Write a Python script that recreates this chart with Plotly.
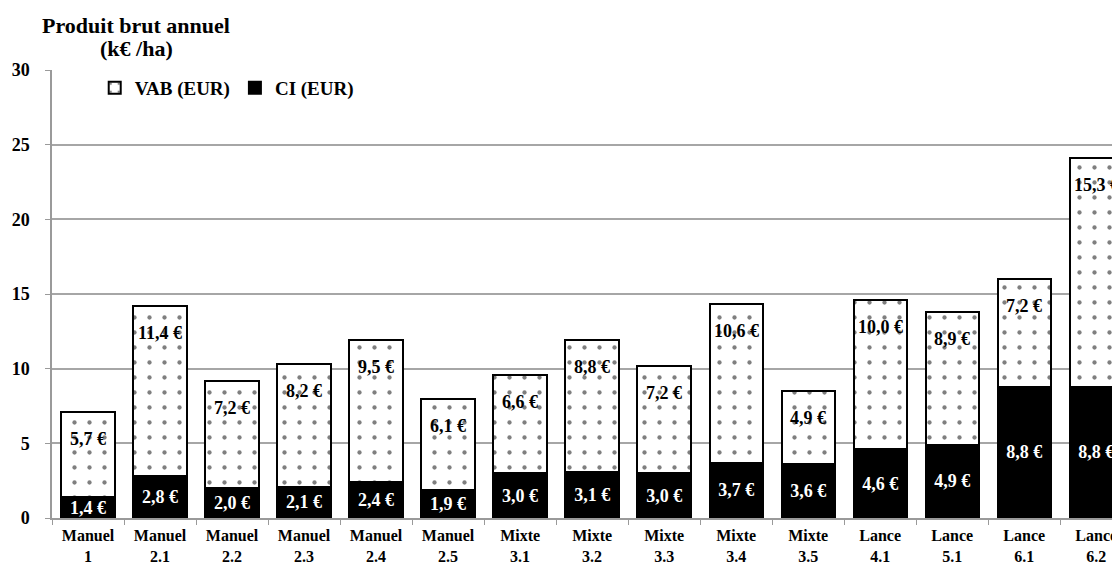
import plotly.graph_objects as go

# Données (k€ / ha)
categories = ["Manuel<br>1", "Manuel<br>2.1", "Manuel<br>2.2", "Manuel<br>2.3", "Manuel<br>2.4",
              "Manuel<br>2.5", "Mixte<br>3.1", "Mixte<br>3.2", "Mixte<br>3.3", "Mixte<br>3.4",
              "Mixte<br>3.5", "Lance<br>4.1", "Lance<br>5.1", "Lance<br>6.1", "Lance<br>6.2"]
ci = [1.4, 2.8, 2.0, 2.1, 2.4, 1.9, 3.0, 3.1, 3.0, 3.7, 3.6, 4.6, 4.9, 8.8, 8.8]
vab = [5.7, 11.4, 7.2, 8.2, 9.5, 6.1, 6.6, 8.8, 7.2, 10.6, 4.9, 10.0, 8.9, 7.2, 15.3]
y_ticks = [0, 5, 10, 15, 20, 25, 30]

FONT = "Liberation Serif"


def eur(v):
    return f"{v:.1f} €".replace(".", ",")


fig = go.Figure()

# CI (noir, en bas)
fig.add_trace(go.Bar(
    x=categories, y=ci, name="CI (EUR)",
    marker=dict(color="black", line=dict(color="black", width=2)),
    text=[eur(v) for v in ci], textposition="inside", insidetextanchor="middle",
    constraintext="none", textangle=0,
    textfont=dict(family=FONT, size=18, color="white", weight="bold"),
    legendrank=2,
))

# VAB (pointillé, en haut)
fig.add_trace(go.Bar(
    x=categories, y=vab, name="VAB (EUR)",
    marker=dict(color="white", line=dict(color="black", width=2),
                pattern=dict(shape=".", fgcolor="black", bgcolor="white",
                             size=15, solidity=0.065)),
    legendrank=1,
))

# étiquettes VAB près du haut de chaque barre
for c, a, b in zip(categories, ci, vab):
    fig.add_annotation(x=c, y=a + b, text=eur(b), showarrow=False,
                       yshift=-27, font=dict(family=FONT, size=18, color="black", weight="bold"))

# titre de l'axe Y (deux lignes)
fig.add_annotation(xref="paper", yref="paper", x=0.079, xanchor="center", y=1.1,
                   yanchor="middle", text="Produit brut annuel", showarrow=False,
                   font=dict(family=FONT, size=22, color="black", weight="bold"))
fig.add_annotation(xref="paper", yref="paper", x=0.079, xanchor="center", y=1.049,
                   yanchor="middle", text="(k€ /ha)", showarrow=False,
                   font=dict(family=FONT, size=22, color="black", weight="bold"))

fig.update_layout(
    width=1112, height=562,
    margin=dict(l=44, r=0, t=62, b=52),
    barmode="stack", bargap=0.26,
    plot_bgcolor="white", paper_bgcolor="white",
    font=dict(family=FONT, color="black"),
    legend=dict(orientation="h", x=0.04, y=0.96, xanchor="left", yanchor="middle",
                traceorder="normal",
                font=dict(family=FONT, size=19, color="black", weight="bold"),
                bgcolor="rgba(0,0,0,0)", itemwidth=30),
    showlegend=True,
)

fig.update_xaxes(
    range=[-0.5, 14.33], automargin=False, showline=True, linecolor="#9a9a9a", linewidth=1.5,
    ticks="outside", tickson="boundaries", ticklen=5, tickcolor="#9a9a9a",
    ticklabelstandoff=2,
    tickfont=dict(family=FONT, size=16, color="black", weight="bold"),
    showgrid=False,
)
fig.update_yaxes(
    range=[0, 30], tickvals=y_ticks, automargin=False, showline=True,
    linecolor="#9a9a9a", linewidth=1.5,
    ticks="outside", ticklen=5, tickcolor="#9a9a9a", ticklabelstandoff=12,
    showgrid=True, gridcolor="#a6a6a6", gridwidth=1.5, zeroline=False,
    tickfont=dict(family=FONT, size=18, color="black", weight="bold"),
)

fig.write_html("out.html")
